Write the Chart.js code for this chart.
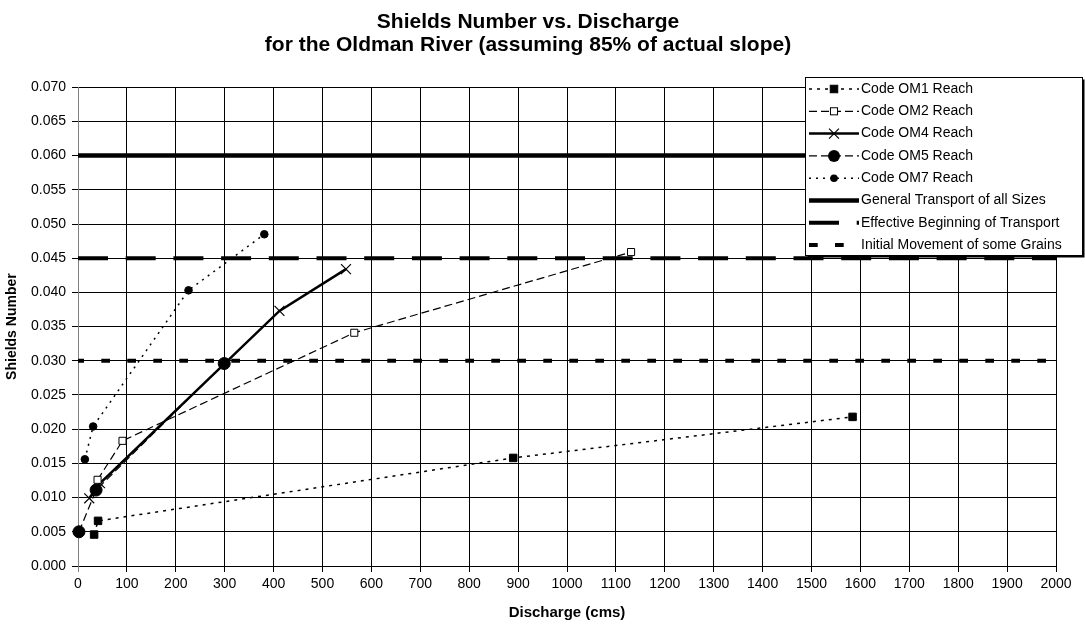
<!DOCTYPE html>
<html>
<head>
<meta charset="utf-8">
<script src="https://cdn.jsdelivr.net/npm/chart.js@4"></script>
<style>body{margin:0;background:#fff}</style>
</head>
<body>
<canvas id="graph" width="1085" height="628"></canvas>
<script>
// discharge (cms) and shields number for each reach
var om1Q = [33, 41, 890, 1584];
var om1S = [0.0046, 0.0066, 0.0158, 0.0218];
var om2Q = [40, 91, 565, 1131];
var om2S = [0.0126, 0.0183, 0.0341, 0.0459];
var om4Q = [23, 45, 412, 548];
var om4S = [0.0099, 0.0121, 0.0373, 0.0434];
var om5Q = [2, 37, 299];
var om5S = [0.0050, 0.0111, 0.0296];
var om7Q = [14, 31, 226, 381];
var om7S = [0.0156, 0.0204, 0.0403, 0.0485];

// threshold lines
var levelQ = [0, 2000];
var generalS = [0.060, 0.060];
var effectiveS = [0.045, 0.045];
var initialS = [0.030, 0.030];

var seriesLabels = ['Code OM1 Reach', 'Code OM2 Reach', 'Code OM4 Reach', 'Code OM5 Reach',
  'Code OM7 Reach', 'General Transport of all Sizes', 'Effective Beginning of Transport',
  'Initial Movement of some Grains'];

var FONT = '"Liberation Sans", Arial, sans-serif';

function pts(xs, ys){
  return xs.map(function(x, i){ return {x: x, y: ys[i]}; });
}

// draws a marker like the ones on the lines
function drawMark(ctx, ds, x, y){
  var r = ds.pointRadius;
  if (!r) return;
  ctx.save();
  ctx.setLineDash([]);
  ctx.fillStyle = ds.pointBackgroundColor;
  ctx.strokeStyle = '#000';
  ctx.lineWidth = ds.pointBorderWidth;
  if (ds.pointStyle == 'rect'){
    var s = r * Math.SQRT1_2;
    ctx.fillRect(x - s, y - s, 2*s, 2*s);
    ctx.strokeRect(x - s, y - s, 2*s, 2*s);
  } else if (ds.pointStyle == 'crossRot'){
    var o = r * Math.SQRT1_2;
    ctx.beginPath();
    ctx.moveTo(x - o, y - o); ctx.lineTo(x + o, y + o);
    ctx.moveTo(x - o, y + o); ctx.lineTo(x + o, y - o);
    ctx.stroke();
  } else {
    ctx.beginPath();
    ctx.arc(x, y, r, 0, Math.PI*2);
    ctx.fill();
  }
  ctx.restore();
}

// excel style legend box sitting on top of the plot
var boxLegend = {
  id: 'boxLegend',
  afterDraw: function(chart){
    var ctx = chart.ctx;
    var x0 = 805.5, y0 = 77.5, w = 277, h = 178;
    ctx.save();
    ctx.fillStyle = '#000';
    ctx.fillRect(x0 + 2, y0 + 2, w, h);
    ctx.fillStyle = '#fff';
    ctx.fillRect(x0, y0, w, h);
    ctx.strokeStyle = '#000';
    ctx.lineWidth = 1;
    ctx.strokeRect(x0, y0, w, h);
    chart.data.datasets.forEach(function(ds, i){
      var y = 89 + i * 22.3;
      ctx.save();
      ctx.strokeStyle = '#000';
      ctx.lineWidth = ds.borderWidth;
      ctx.setLineDash(ds.borderDash || []);
      ctx.beginPath();
      ctx.moveTo(809, y);
      ctx.lineTo(859, y);
      ctx.stroke();
      ctx.restore();
      drawMark(ctx, ds, 834, y);
      ctx.fillStyle = '#000';
      ctx.font = '14px ' + FONT;
      ctx.textBaseline = 'middle';
      ctx.fillText(ds.label, 861, y);
    });
    ctx.restore();
  }
};

window.onload = function(){
  var ctx = document.getElementById('graph').getContext('2d');
  Chart.defaults.font.family = FONT;
  new Chart(ctx, {
    type: 'scatter',
    data: {
      datasets: [
        { label: seriesLabels[0], data: pts(om1Q, om1S), showLine: true,
          borderColor: '#000', borderWidth: 1.5, borderDash: [3, 5],
          pointStyle: 'rect', pointRadius: 5.3, pointBackgroundColor: '#000', pointBorderWidth: 1, clip: false },
        { label: seriesLabels[1], data: pts(om2Q, om2S), showLine: true,
          borderColor: '#000', borderWidth: 1.2, borderDash: [8, 4],
          pointStyle: 'rect', pointRadius: 5, pointBackgroundColor: '#fff', pointBorderWidth: 1, clip: false },
        { label: seriesLabels[2], data: pts(om4Q, om4S), showLine: true,
          borderColor: '#000', borderWidth: 2.5,
          pointStyle: 'crossRot', pointRadius: 7, pointBackgroundColor: '#000', pointBorderWidth: 1.2, clip: false },
        { label: seriesLabels[3], data: pts(om5Q, om5S), showLine: true,
          borderColor: '#000', borderWidth: 1.2, borderDash: [8, 4],
          pointStyle: 'circle', pointRadius: 6, pointBackgroundColor: '#000', pointBorderWidth: 1, clip: false },
        { label: seriesLabels[4], data: pts(om7Q, om7S), showLine: true,
          borderColor: '#000', borderWidth: 1.5, borderDash: [2, 5],
          pointStyle: 'circle', pointRadius: 3.8, pointBackgroundColor: '#000', pointBorderWidth: 1, clip: false },
        { label: seriesLabels[5], data: pts(levelQ, generalS), showLine: true,
          borderColor: '#000', borderWidth: 4.5, pointRadius: 0 },
        { label: seriesLabels[6], data: pts(levelQ, effectiveS), showLine: true,
          borderColor: '#000', borderWidth: 4, borderDash: [30, 17.7], pointRadius: 0 },
        { label: seriesLabels[7], data: pts(levelQ, initialS), showLine: true,
          borderColor: '#000', borderWidth: 4, borderDash: [8.7, 17.3], borderDashOffset: 2.7, pointRadius: 0 }
      ]
    },
    options: {
      responsive: false,
      animation: false,
      devicePixelRatio: 1,
      layout: { padding: { left: 0, right: 29, top: 0, bottom: 0 } },
      plugins: {
        legend: { display: false },
        tooltip: { enabled: false },
        title: {
          display: true,
          text: ['Shields Number vs. Discharge', 'for the Oldman River (assuming 85% of actual slope)'],
          color: '#000',
          font: { size: 21, weight: 'bold', lineHeight: 1.1 },
          padding: { top: 11, bottom: 30 }
        }
      },
      scales: {
        x: {
          type: 'linear', min: 0, max: 2000,
          ticks: { stepSize: 100, color: '#000', font: { size: 14 }, padding: 4, maxRotation: 0, autoSkip: false,
                   callback: function(v){ return String(v); } },
          grid: { color: function(c){ return c.index === 0 ? '#808080' : '#000'; }, lineWidth: 1, tickLength: 6 },
          border: { color: '#000' },
          title: { display: true, text: 'Discharge (cms)', color: '#000', font: { size: 15, weight: 'bold' }, padding: { top: 4, bottom: 6 } },
          afterFit: function(s){ s.height = 62; }
        },
        y: {
          min: 0, max: 0.07,
          ticks: { stepSize: 0.005, color: '#000', font: { size: 14 }, padding: 6,
                   callback: function(v){ return Number(v).toFixed(3); } },
          grid: { color: '#000', lineWidth: 1, tickLength: 6 },
          border: { color: '#808080' },
          title: { display: true, text: 'Shields Number', color: '#000', font: { size: 14, weight: 'bold' }, padding: { top: 4, bottom: 4 } },
          afterFit: function(s){ s.width = 78; }
        }
      }
    },
    plugins: [boxLegend]
  });
};
</script>
</body>
</html>
